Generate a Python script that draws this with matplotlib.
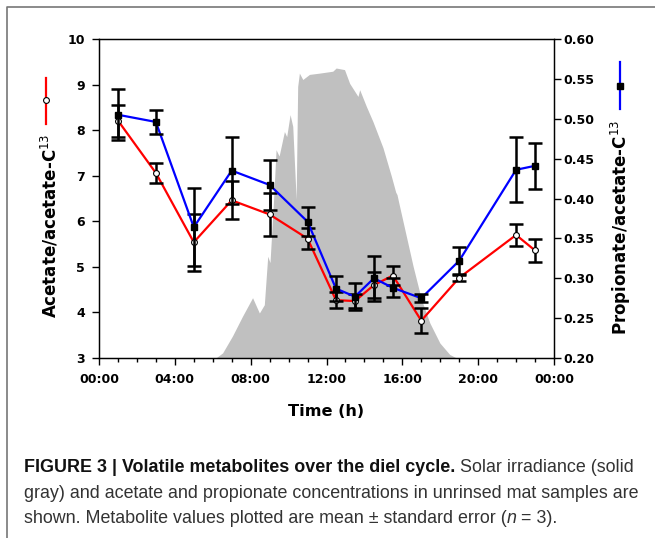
import matplotlib
matplotlib.use("Agg")
import matplotlib.pyplot as plt
from matplotlib.lines import Line2D
from matplotlib.ticker import MultipleLocator

plt.rcParams["font.family"] = ["DejaVu Sans"]

# sampling times (h) and metabolite ratios (mean, standard error)
hours = [1, 3, 5, 7, 9, 11, 12.5, 13.5, 14.5, 15.5, 17, 19, 22, 23]
acetate = [8.21, 7.06, 5.54, 6.46, 6.15, 5.62, 4.27, 4.25, 4.60, 4.81, 3.82, 4.76, 5.70, 5.36]
acetate_se = [0.35, 0.21, 0.62, 0.42, 0.48, 0.23, 0.18, 0.15, 0.28, 0.20, 0.28, 0.06, 0.24, 0.25]
propionate = [0.505, 0.496, 0.364, 0.435, 0.417, 0.371, 0.287, 0.277, 0.300, 0.288,
              0.275, 0.322, 0.436, 0.441]
propionate_se = [0.032, 0.015, 0.049, 0.042, 0.031, 0.018, 0.016, 0.017, 0.028, 0.012,
                 0.005, 0.017, 0.041, 0.029]

# solar irradiance, relative to full scale
sun_hours = [0, 6.16, 6.52, 7.04, 7.57, 8.10, 8.46, 8.72, 8.90, 9.02, 9.20, 9.34, 9.50,
             9.78, 9.90, 10.08, 10.22, 10.40, 10.48, 10.57, 10.75, 11.10, 11.63, 12.33,
             12.51, 12.95, 13.22, 13.66, 13.75, 14.10, 14.45, 14.98, 15.42, 15.65, 15.72,
             15.80, 16.13, 16.57, 17.01, 17.45, 17.98, 18.50, 18.86, 24]
sun_level = [0, 0, 0.016, 0.069, 0.131, 0.189, 0.141, 0.167, 0.319, 0.299, 0.486, 0.653,
             0.633, 0.710, 0.694, 0.763, 0.726, 0.497, 0.851, 0.893, 0.873, 0.889, 0.893,
             0.899, 0.909, 0.904, 0.861, 0.820, 0.841, 0.789, 0.741, 0.659, 0.570, 0.520,
             0.512, 0.490, 0.403, 0.287, 0.183, 0.110, 0.047, 0.011, 0, 0]

x_ticks = [0, 4, 8, 12, 16, 20, 24]
x_labels = ["00:00", "04:00", "08:00", "12:00", "16:00", "20:00", "00:00"]
left_ticks = [3, 4, 5, 6, 7, 8, 9, 10]
right_ticks = [0.20, 0.25, 0.30, 0.35, 0.40, 0.45, 0.50, 0.55, 0.60]

W, H = 655, 538
fig = plt.figure(figsize=(W / 100, H / 100), dpi=100)
fig.patch.set_facecolor("white")


def px(x, y):
    return x / W, 1 - y / H


rect = [99 / W, 1 - 358 / H, (554 - 99) / W, (358 - 39) / H]

# irradiance underlay
sun = fig.add_axes(rect)
sun.fill_between(sun_hours, sun_level, 0, color="#c0c0c0", lw=0)
sun.set_xlim(0, 24)
sun.set_ylim(0, 1)
sun.set_axis_off()
sun.set_zorder(0)

ax = fig.add_axes(rect)
ax.set_zorder(1)
ax.patch.set_visible(False)
ax2 = ax.twinx()
ax2.set_zorder(2)
ax2.patch.set_visible(False)

ax.plot(hours, acetate, color="#ff0000", lw=1.6, zorder=2)
ax.errorbar(hours, acetate, yerr=acetate_se, fmt="none", ecolor="black",
            elinewidth=1.8, capsize=4.7, capthick=1.8, zorder=3)
ax.plot(hours, acetate, "o", ms=4.2, mfc="white", mec="black", mew=0.8, zorder=4)

ax2.plot(hours, propionate, color="#0000ff", lw=1.6, zorder=2)
ax2.errorbar(hours, propionate, yerr=propionate_se, fmt="none", ecolor="black",
             elinewidth=1.8, capsize=4.7, capthick=1.8, zorder=3)
ax2.plot(hours, propionate, "s", ms=5, mfc="black", mec="black", zorder=4)

ax.set_xlim(0, 24)
ax.set_ylim(3, 10)
ax2.set_ylim(0.2, 0.6)

ax.set_xticks(x_ticks)
ax.set_xticklabels(x_labels, fontsize=9, fontweight="bold")
ax.xaxis.set_minor_locator(MultipleLocator(1))
ax.set_yticks(left_ticks)
ax.set_yticklabels([str(v) for v in left_ticks], fontsize=9, fontweight="bold")
ax2.set_yticks(right_ticks)
ax2.set_yticklabels([f"{v:.2f}" for v in right_ticks], fontsize=9, fontweight="bold")

ax.tick_params(axis="x", which="major", direction="out", length=5, width=1, pad=6)
ax.tick_params(axis="x", which="minor", direction="out", length=3, width=1)
ax.tick_params(axis="y", direction="out", length=5, width=1, pad=5)
ax2.tick_params(axis="y", direction="out", length=5, width=1, pad=1.5)
for a in (ax, ax2):
    for s in a.spines.values():
        s.set_linewidth(0.9)

fig.text(*px(326.5, 412), "Time (h)", fontsize=11.6, fontweight="bold",
         ha="center", va="center")

# y labels with their legend glyphs
fig.text(*px(56, 318), r"Acetate/acetate-C$^{13}$", fontsize=12, fontweight="bold",
         rotation=90, rotation_mode="anchor", ha="left", va="baseline")
fig.add_artist(Line2D([45.5 / W, 45.5 / W], [1 - 78 / H, 1 - 124 / H],
                      color="#ff0000", lw=1.6, transform=fig.transFigure))
fig.add_artist(Line2D([45.5 / W], [1 - 100 / H], marker="o", ms=4.2, mfc="white",
                      mec="black", mew=0.8, transform=fig.transFigure))

fig.text(*px(627, 335), r"Propionate/acetate-C$^{13}$", fontsize=12, fontweight="bold",
         rotation=90, rotation_mode="anchor", ha="left", va="baseline")
fig.add_artist(Line2D([620 / W, 620 / W], [1 - 62 / H, 1 - 109 / H],
                      color="#0000ff", lw=1.6, transform=fig.transFigure))
fig.add_artist(Line2D([620 / W], [1 - 86 / H], marker="s", ms=5, mfc="black",
                      mec="black", transform=fig.transFigure))

# page frame
fig.add_artist(Line2D([6.5 / W, 6.5 / W, 1], [0, 1 - 6.5 / H, 1 - 6.5 / H],
                      color="#777777", lw=1.2, transform=fig.transFigure))

# caption
renderer = fig.canvas.get_renderer()
cap_font = ["Liberation Sans", "DejaVu Sans"]
cap_size = 12.9


def caption_line(y, parts):
    x = 23.5
    for txt, weight, style, color in parts:
        t = fig.text(*px(x, y), txt, fontsize=cap_size, fontweight=weight,
                     fontstyle=style, color=color, family=cap_font,
                     ha="left", va="baseline")
        bb = t.get_window_extent(renderer=renderer)
        x += bb.width


caption_line(472, [("FIGURE 3 | Volatile metabolites over the diel cycle.", "bold", "normal", "#111111"),
                   (" Solar irradiance (solid", "normal", "normal", "#333333")])
caption_line(498, [("gray) and acetate and propionate concentrations in unrinsed mat samples are",
                    "normal", "normal", "#333333")])
caption_line(523, [("shown. Metabolite values plotted are mean \u00b1 standard error (",
                    "normal", "normal", "#333333"),
                   ("n", "normal", "italic", "#333333"),
                   (" = 3).", "normal", "normal", "#333333")])

fig.savefig("out.png", dpi=100)
